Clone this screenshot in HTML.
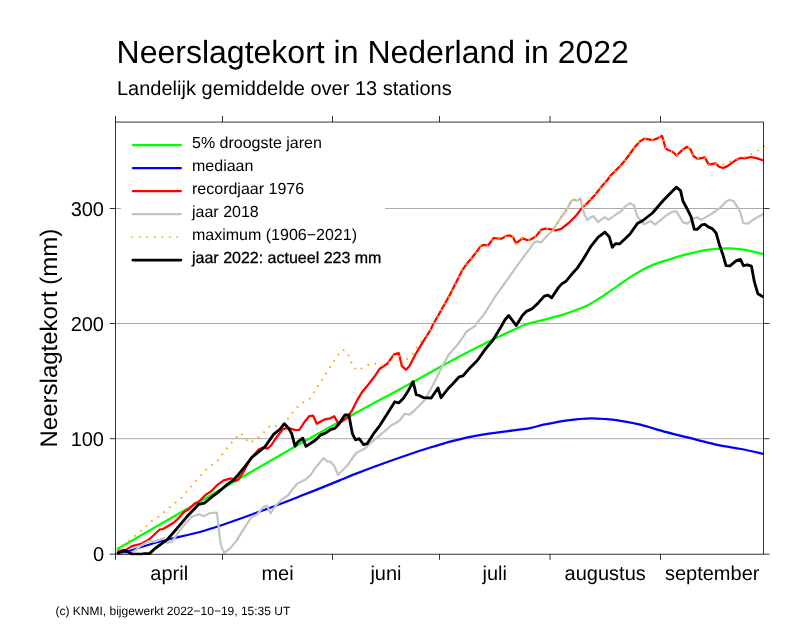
<!DOCTYPE html>
<html lang="nl"><head><meta charset="utf-8"><title>Neerslagtekort in Nederland in 2022</title>
<style>
html,body{margin:0;padding:0;background:#fff;}
svg{display:block;will-change:transform;}
text{font-family:"Liberation Sans",Arial,Helvetica,sans-serif;fill:#000;text-rendering:geometricPrecision;}
.ln{fill:none;stroke-linejoin:round;stroke-linecap:butt;}
</style></head><body>
<svg width="805" height="642" viewBox="0 0 805 642">
<rect x="0" y="0" width="805" height="642" fill="#ffffff"/>
<text x="116.6" y="62.6" font-size="32">Neerslagtekort in Nederland in 2022</text>
<text x="117" y="95.2" font-size="20">Landelijk gemiddelde over 13 stations</text>
<line x1="115.5" y1="438.7" x2="763.6" y2="438.7" stroke="#949494" stroke-width="0.8"/>
<line x1="115.5" y1="323.5" x2="763.6" y2="323.5" stroke="#949494" stroke-width="0.8"/>
<line x1="115.5" y1="208.5" x2="763.6" y2="208.5" stroke="#949494" stroke-width="0.8"/>
<clipPath id="c"><rect x="115.5" y="122.05" width="649.7" height="433.15000000000003"/></clipPath>
<g clip-path="url(#c)">
<path class="ln" d="M117.0,549.2C132.4,540.3 177.5,514.4 209.7,495.9C241.9,477.4 276.2,457.1 310.0,438.2C343.8,419.3 388.9,395.2 412.2,382.4C435.5,369.6 440.4,366.8 450.0,361.6C459.6,356.4 463.3,354.4 470.0,351.0C476.7,347.6 485.0,343.5 490.0,341.0C495.0,338.5 496.1,338.1 500.0,336.2C503.9,334.3 509.6,331.7 513.7,329.8C517.9,327.9 519.9,326.5 524.9,324.8C529.9,323.1 537.4,321.5 543.6,319.8C549.8,318.1 557.1,316.4 562.3,314.8C567.5,313.2 570.6,312.1 574.8,310.5C579.0,308.9 583.1,307.6 587.3,305.5C591.5,303.4 597.1,299.8 600.0,298.0C602.9,296.2 602.0,296.8 604.9,294.8C607.8,292.8 613.2,289.0 617.4,286.1C621.6,283.2 625.8,280.1 629.9,277.4C634.0,274.7 638.1,272.1 642.3,269.9C646.4,267.7 650.4,265.8 654.8,264.1C659.2,262.4 664.1,261.1 668.7,259.6C673.3,258.2 678.0,256.6 682.4,255.4C686.8,254.2 690.8,253.2 694.9,252.3C699.0,251.4 703.1,250.4 707.3,249.8C711.4,249.2 716.1,248.8 719.8,248.6C723.5,248.4 726.7,248.3 729.6,248.4C732.5,248.5 734.0,248.6 737.4,249.0C740.8,249.4 745.5,249.9 749.9,250.8C754.3,251.7 761.3,253.6 763.6,254.2" stroke="#00ff00" stroke-width="2.25"/>
<path class="ln" d="M117.0,554.0C118.3,553.7 117.8,554.4 125.0,552.3C132.2,550.2 146.7,545.1 160.0,541.5C173.3,537.9 189.2,535.2 205.0,530.5C220.8,525.8 238.2,519.4 254.9,513.4C271.6,507.4 290.6,499.9 305.0,494.3C319.4,488.7 332.8,483.2 341.1,479.8C349.4,476.4 348.4,476.6 354.8,474.1C361.2,471.6 371.4,467.7 379.7,464.7C388.0,461.7 396.2,458.8 404.5,456.0C412.8,453.2 421.1,450.4 429.4,447.8C437.7,445.2 446.3,442.6 454.2,440.6C462.1,438.6 468.3,437.1 476.6,435.6C484.9,434.1 495.0,432.9 503.9,431.6C512.8,430.4 523.4,429.2 530.0,428.1C536.6,427.0 537.4,425.9 543.4,424.7C549.4,423.4 559.6,421.6 565.7,420.6C571.8,419.7 575.6,419.4 580.0,419.0C584.4,418.6 587.6,418.4 591.8,418.4C596.0,418.4 600.6,418.7 605.0,419.0C609.4,419.3 612.0,419.4 617.9,420.3C623.8,421.2 632.2,422.7 640.3,424.7C648.4,426.7 657.1,429.7 666.4,432.2C675.7,434.7 687.5,437.4 696.2,439.6C704.9,441.8 711.0,443.6 718.5,445.2C726.0,446.8 733.4,447.6 740.9,449.0C748.4,450.4 759.8,453.0 763.6,453.8" stroke="#0000ff" stroke-width="2.25"/>
<polyline class="ln" points="117.0,551.2 125.7,549.9 132.0,546.1 138.2,544.5 141.9,543.6 149.4,539.3 160.0,529.3 163.1,529.0 166.9,526.8 173.1,523.0 176.8,519.9 184.3,511.8 189.3,508.7 194.3,503.7 199.3,501.2 205.5,495.0 212.0,490.6 217.5,484.8 223.7,480.4 229.9,478.6 231.8,478.6 234.9,481.1 238.0,479.8 242.4,473.6 248.6,462.4 253.0,456.1 258.6,449.6 263.6,447.4 267.3,448.6 271.1,445.5 277.3,436.2 282.9,429.3 286.0,428.1 291.0,428.7 294.8,429.9 299.3,430.0 305.0,421.2 309.4,416.0 313.1,415.6 316.8,423.7 324.9,419.3 330.5,418.3 334.3,416.2 338.0,423.1 342.4,421.2 346.8,418.1 349.9,413.7 352.4,409.8 357.4,399.8 362.3,391.7 368.6,384.2 374.8,376.1 379.8,368.7 387.3,363.7 394.1,354.3 398.7,353.1 401.9,366.2 406.0,369.7 409.3,366.2 416.2,353.1 423.7,340.6 430.5,330.0 432.4,325.8 449.9,294.7 462.5,269.8 466.9,263.6 471.8,258.0 476.2,252.3 480.6,246.1 484.3,244.9 488.1,245.5 493.7,238.0 498.7,238.6 501.8,238.6 506.1,235.9 509.9,235.5 513.0,237.1 516.1,243.4 522.3,238.3 527.3,240.1 530.4,239.6 536.1,236.1 541.0,229.9 544.8,228.7 548.5,228.9 552.9,229.7 555.0,230.5 561.2,228.9 568.7,223.0 576.2,215.5 582.4,207.4 587.4,203.1 594.9,195.0 602.4,185.6 607.4,180.0 610.6,175.5 615.6,170.5 620.6,165.5 625.6,159.7 630.5,153.0 635.5,146.2 639.9,141.4 644.3,138.7 652.4,140.2 658.0,138.1 662.1,136.0 663.6,141.2 665.5,148.1 668.6,150.3 672.3,151.5 676.7,155.5 682.3,149.9 687.0,146.8 690.5,149.3 693.6,156.2 697.7,158.9 704.9,157.4 708.7,164.6 715.5,163.4 719.3,166.8 723.0,168.0 727.4,166.1 736.1,159.9 740.5,158.0 744.2,158.4 751.1,157.0 757.3,158.4 763.5,160.5" stroke="#ff0000" stroke-width="2.25"/>
<polyline class="ln" points="117.0,553.8 128.0,554.2 134.4,551.1 141.9,544.9 149.4,541.1 154.4,541.7 163.7,538.4 166.9,543.0 171.8,541.7 176.8,534.9 183.1,526.2 191.8,516.8 199.3,514.3 203.6,516.2 210.0,513.0 216.8,512.7 218.1,522.4 220.0,539.9 221.8,548.0 224.3,552.7 229.9,548.6 236.2,541.1 242.4,531.1 249.9,519.3 253.0,516.2 257.4,514.3 263.0,507.4 267.1,505.6 270.5,513.4 274.8,506.8 281.1,500.0 288.5,495.0 292.3,489.4 297.3,483.7 305.0,479.8 310.6,474.8 316.2,466.7 323.7,458.0 327.4,461.7 330.5,461.7 334.3,466.1 338.0,474.8 347.4,465.5 356.1,453.0 364.8,448.6 369.8,443.6 377.3,437.4 384.8,431.2 391.0,425.6 396.0,423.1 400.0,420.0 404.7,413.8 409.7,414.7 415.0,409.8 424.9,399.8 432.4,386.1 438.0,374.9 443.6,363.7 448.6,354.9 457.3,345.0 463.6,336.2 466.0,332.0 475.0,326.0 477.0,323.0 485.0,313.0 494.8,297.2 514.2,269.8 522.3,258.6 529.8,248.6 534.2,242.4 537.3,241.4 541.0,242.4 547.3,235.5 552.9,230.5 555.0,226.8 559.4,219.9 563.7,213.7 567.5,208.1 571.2,201.2 573.1,199.6 577.4,200.6 580.3,198.5 582.4,206.2 584.3,214.3 587.4,220.1 590.5,217.4 593.6,216.2 598.0,222.0 604.9,217.2 608.6,219.7 616.1,214.3 621.1,211.2 626.1,205.6 630.2,203.1 634.2,205.6 637.3,216.2 641.0,221.1 644.1,224.3 650.6,220.9 655.0,224.6 666.2,215.5 672.4,211.8 676.2,211.2 679.3,216.2 683.0,222.4 687.4,223.6 693.0,218.7 697.4,217.4 701.1,219.9 713.0,213.0 719.8,208.1 726.0,201.8 729.8,199.8 733.6,201.2 737.3,206.8 740.2,211.8 743.2,223.0 748.0,223.7 754.9,218.7 763.6,213.7" stroke="#c4c4c4" stroke-width="2.25"/>
<polyline class="ln" points="117.6,549.9 123.2,544.9 129.5,540.5 135.1,535.8 140.7,530.9 146.3,526.2 151.9,520.9 158.1,517.2 163.7,512.4 169.4,507.5 175.2,502.8 181.0,498.1 186.2,492.5 195.0,482.0 205.6,470.1 210.9,465.7 216.8,461.7 221.5,455.7 225.8,449.6 230.6,444.0 235.3,438.3 240.5,433.1 244.5,436.8 248.6,443.0 254.9,440.2 260.9,435.5 265.8,430.3 271.1,425.0 277.9,426.4 283.6,423.7 288.5,418.1 292.9,412.2 297.6,406.9 303.4,402.1 309.7,398.6 313.7,392.3 317.8,386.1 321.8,380.1 325.9,373.6 329.9,367.4 333.9,361.2 338.0,354.9 343.0,349.6 347.6,353.3 350.4,359.9 353.2,366.9 358.0,370.5 364.5,366.8 371.1,363.3 376.4,364.0 383.2,365.5 388.8,362.2 393.5,355.9 398.7,354.3 400.6,361.2 403.7,363.7 408.1,357.7 413.5,352.8 417.4,346.2 421.8,340.6 426.8,335.0 430.5,330.0 432.4,325.8 449.9,294.7 462.5,269.8 466.9,263.6 471.8,258.0 476.2,252.3 480.6,246.1 484.3,244.9 488.1,245.5 493.7,238.0 498.7,238.6 501.8,238.6 506.1,235.9 509.9,235.5 513.0,237.1 516.1,243.4 522.3,238.3 527.3,240.1 530.4,239.6 536.1,236.1 541.0,229.9 544.8,228.7 548.5,228.9 552.9,230.5 555.0,226.8 559.4,219.9 563.7,213.7 567.5,208.1 571.2,201.2 573.1,199.6 577.4,200.6 580.3,198.5 582.2,203.5 584.5,205.2 587.4,203.1 594.9,195.0 602.4,185.6 607.4,180.0 610.6,175.5 615.6,170.5 620.6,165.5 625.6,159.7 630.5,153.0 635.5,146.2 639.9,141.4 644.3,138.7 652.4,140.2 658.0,138.1 662.1,136.0 663.6,141.2 665.5,148.1 668.6,150.3 672.3,151.5 676.7,155.5 682.3,149.9 687.0,146.8 690.5,149.3 693.6,156.2 697.7,158.9 704.9,157.4 708.7,164.6 715.5,163.4 718.0,164.8 723.0,164.5 729.9,161.5 736.7,159.7 744.0,157.4 750.8,154.3 757.3,150.9 763.3,146.6 766.0,144.6" stroke="#ffa500" stroke-width="1.95" stroke-dasharray="0.01 7.49" style="stroke-linecap:round"/>
<polyline class="ln" points="117.0,553.6 123.8,550.7 127.0,551.1 132.0,554.2 141.9,554.2 144.4,553.6 149.4,553.6 155.6,548.0 166.9,539.9 176.8,528.7 186.8,516.8 198.7,504.3 204.3,503.1 212.0,496.9 219.0,491.5 226.8,484.8 233.7,479.8 238.7,474.2 244.9,466.7 251.8,457.4 258.6,451.8 264.9,446.8 269.8,439.9 273.6,434.3 279.8,429.3 284.4,423.7 288.5,428.1 291.7,433.7 295.0,446.1 297.9,441.8 302.8,438.2 306.0,446.4 315.0,440.5 320.6,434.9 324.9,433.4 331.2,429.3 334.9,428.4 338.7,424.3 344.9,415.0 348.9,415.0 350.5,423.7 352.4,433.7 355.5,439.9 359.2,438.7 363.6,444.6 367.3,443.6 373.6,433.7 379.8,425.6 387.3,413.7 394.8,401.8 398.7,402.9 403.7,398.0 408.7,389.9 413.1,381.7 416.2,394.6 419.3,395.5 423.7,397.7 431.2,398.0 438.0,388.0 441.1,397.7 448.6,388.0 452.4,384.2 459.2,376.8 463.0,375.9 468.6,369.3 477.3,360.5 484.8,349.9 493.0,340.0 500.0,328.6 505.0,319.8 508.7,315.5 516.2,325.4 522.4,315.5 526.8,311.1 532.4,308.6 538.7,302.4 544.3,296.1 548.0,295.1 551.7,297.8 558.6,287.4 562.3,283.4 566.1,281.2 571.7,274.3 577.3,268.1 583.5,258.7 591.1,246.1 598.0,237.4 604.9,232.1 609.2,236.7 612.3,247.3 615.5,243.6 619.8,243.8 629.8,234.2 637.3,223.6 642.9,220.5 652.5,213.0 663.7,200.0 676.2,187.2 680.5,190.6 683.0,201.2 687.4,209.3 691.1,216.8 694.3,229.3 697.4,229.3 701.7,224.9 704.9,224.3 708.6,227.1 712.3,228.6 716.1,233.0 719.8,246.1 723.0,255.0 726.0,265.6 730.0,265.8 736.0,260.9 740.4,259.4 743.4,265.7 747.4,264.8 751.4,266.1 754.4,281.9 757.9,293.8 763.4,297.0" stroke="#000000" stroke-width="2.85"/>
</g>
<rect x="120.8" y="128" width="264.2" height="145" fill="#ffffff"/>
<line x1="132.8" y1="145.0" x2="180.9" y2="145.0" stroke="#00ff00" stroke-width="2.25" stroke-linecap="round"/>
<text x="192" y="148.2" font-size="16">5% droogste jaren</text>
<line x1="132.8" y1="168.0" x2="180.9" y2="168.0" stroke="#0000ff" stroke-width="2.25" stroke-linecap="round"/>
<text x="192" y="171.2" font-size="16">mediaan</text>
<line x1="132.8" y1="191.0" x2="180.9" y2="191.0" stroke="#ff0000" stroke-width="2.25" stroke-linecap="round"/>
<text x="192" y="194.2" font-size="16">recordjaar 1976</text>
<line x1="132.8" y1="214.1" x2="180.9" y2="214.1" stroke="#c4c4c4" stroke-width="2.25" stroke-linecap="round"/>
<text x="192" y="217.3" font-size="16">jaar 2018</text>
<line x1="132.3" y1="237.1" x2="181" y2="237.1" stroke="#ffa500" stroke-width="1.95" stroke-dasharray="0.01 7.49" stroke-linecap="round"/>
<text x="192" y="240.3" font-size="16">maximum (1906−2021)</text>
<line x1="132.8" y1="260.1" x2="180.9" y2="260.1" stroke="#000000" stroke-width="2.85" stroke-linecap="round"/>
<text x="192" y="263.3" font-size="16" stroke="#000" stroke-width="0.3">jaar 2022: actueel 223 mm</text>
<rect x="115.5" y="122.05" width="648.1" height="432.15000000000003" fill="none" stroke="#000" stroke-width="0.8"/>
<line x1="222.5" y1="554.2" x2="222.5" y2="559.8000000000001" stroke="#000" stroke-width="0.8"/>
<line x1="222.5" y1="122.05" x2="222.5" y2="116.05" stroke="#000" stroke-width="0.8"/>
<line x1="332.5" y1="554.2" x2="332.5" y2="559.8000000000001" stroke="#000" stroke-width="0.8"/>
<line x1="332.5" y1="122.05" x2="332.5" y2="116.05" stroke="#000" stroke-width="0.8"/>
<line x1="439.5" y1="554.2" x2="439.5" y2="559.8000000000001" stroke="#000" stroke-width="0.8"/>
<line x1="439.5" y1="122.05" x2="439.5" y2="116.05" stroke="#000" stroke-width="0.8"/>
<line x1="550.0" y1="554.2" x2="550.0" y2="559.8000000000001" stroke="#000" stroke-width="0.8"/>
<line x1="550.0" y1="122.05" x2="550.0" y2="116.05" stroke="#000" stroke-width="0.8"/>
<line x1="660.5" y1="554.2" x2="660.5" y2="559.8000000000001" stroke="#000" stroke-width="0.8"/>
<line x1="660.5" y1="122.05" x2="660.5" y2="116.05" stroke="#000" stroke-width="0.8"/>
<line x1="115.5" y1="554.2" x2="115.5" y2="559.8000000000001" stroke="#000" stroke-width="0.8"/>
<line x1="115.5" y1="122.05" x2="115.5" y2="116.05" stroke="#000" stroke-width="0.8"/>
<line x1="109.7" y1="554.2" x2="115.5" y2="554.2" stroke="#000" stroke-width="0.8"/>
<line x1="763.6" y1="554.2" x2="769.5" y2="554.2" stroke="#000" stroke-width="0.8"/>
<text x="104" y="561.3" font-size="20" text-anchor="end">0</text>
<line x1="109.7" y1="438.7" x2="115.5" y2="438.7" stroke="#000" stroke-width="0.8"/>
<line x1="763.6" y1="438.7" x2="769.5" y2="438.7" stroke="#000" stroke-width="0.8"/>
<text x="104" y="445.8" font-size="20" text-anchor="end">100</text>
<line x1="109.7" y1="323.5" x2="115.5" y2="323.5" stroke="#000" stroke-width="0.8"/>
<line x1="763.6" y1="323.5" x2="769.5" y2="323.5" stroke="#000" stroke-width="0.8"/>
<text x="104" y="330.6" font-size="20" text-anchor="end">200</text>
<line x1="109.7" y1="208.5" x2="115.5" y2="208.5" stroke="#000" stroke-width="0.8"/>
<line x1="763.6" y1="208.5" x2="769.5" y2="208.5" stroke="#000" stroke-width="0.8"/>
<text x="104" y="215.6" font-size="20" text-anchor="end">300</text>
<text x="169.2" y="579.5" font-size="20" text-anchor="middle">april</text>
<text x="277.5" y="579.5" font-size="20" text-anchor="middle">mei</text>
<text x="386" y="579.5" font-size="20" text-anchor="middle">juni</text>
<text x="494.7" y="579.5" font-size="20" text-anchor="middle">juli</text>
<text x="605.2" y="579.5" font-size="20" text-anchor="middle">augustus</text>
<text x="712.2" y="579.5" font-size="20" text-anchor="middle">september</text>
<text transform="translate(57,338.1) rotate(-90)" font-size="24" text-anchor="middle">Neerslagtekort (mm)</text>
<text x="55.5" y="614.6" font-size="12">(c) KNMI, bijgewerkt 2022−10−19, 15:35 UT</text>
</svg>
</body></html>
